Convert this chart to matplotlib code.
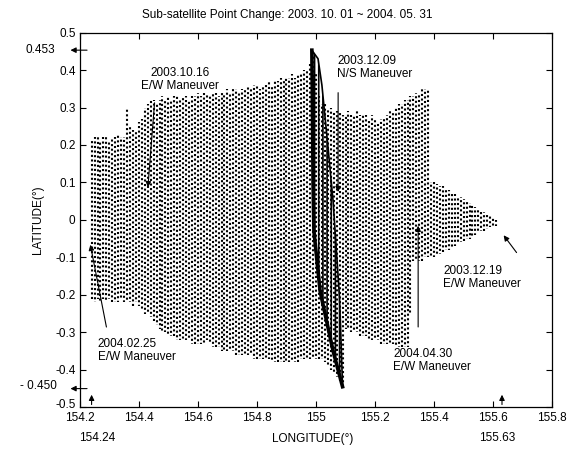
"""
Sub-satellite point track, Oct 2003 - May 2004.
Each day's excursion is drawn as a dotted vertical trace from its southern to
northern latitude limit, with the N/S maneuver band and maneuver annotations.
"""

import numpy as np
import matplotlib
matplotlib.use("Agg")
import matplotlib.pyplot as plt
from matplotlib.transforms import ScaledTranslation

plt.rcParams["font.family"] = ["Liberation Sans", "DejaVu Sans"]
plt.rcParams["hatch.linewidth"] = 1.2

# === DATA ===
# daily trace longitude (deg)
trace_lon = [
    154.24, 154.25, 154.26, 154.27, 154.28, 154.29, 154.30, 154.31, 154.32, 154.33,
    154.34, 154.35, 154.36, 154.37, 154.38, 154.39, 154.40, 154.41, 154.42, 154.43,
    154.44, 154.45, 154.46, 154.47, 154.48, 154.49, 154.50, 154.51, 154.52, 154.53,
    154.54, 154.55, 154.56, 154.57, 154.58, 154.59, 154.60, 154.61, 154.62, 154.63,
    154.64, 154.65, 154.66, 154.67, 154.68, 154.69, 154.70, 154.71, 154.72, 154.73,
    154.74, 154.75, 154.76, 154.77, 154.78, 154.79, 154.80, 154.81, 154.82, 154.83,
    154.84, 154.85, 154.86, 154.87, 154.88, 154.89, 154.90, 154.91, 154.92, 154.93,
    154.94, 154.95, 154.96, 154.97, 154.98, 154.99, 155.00, 155.01, 155.02, 155.03,
    155.04, 155.05, 155.06, 155.07, 155.08, 155.09, 155.10, 155.11, 155.12, 155.13,
    155.14, 155.15, 155.16, 155.17, 155.18, 155.19, 155.20, 155.21, 155.22, 155.23,
    155.24, 155.25, 155.26, 155.27, 155.28, 155.29, 155.30, 155.31, 155.32, 155.33,
    155.34, 155.35, 155.36, 155.37, 155.38, 155.39, 155.40, 155.41, 155.42, 155.43,
    155.44, 155.45, 155.46, 155.47, 155.48, 155.49, 155.50, 155.51, 155.52, 155.53,
    155.54, 155.55, 155.56, 155.57, 155.58, 155.59, 155.60, 155.61, 155.62,
]
# northern limit of each daily trace (deg)
trace_top = [
    0.21, 0.22, 0.22, 0.21, 0.22, 0.22, 0.21, 0.22, 0.22, 0.23,
    0.22, 0.22, 0.30, 0.25, 0.24, 0.24, 0.26, 0.27, 0.30, 0.31,
    0.32, 0.32, 0.31, 0.32, 0.33, 0.32, 0.33, 0.32, 0.33, 0.33,
    0.32, 0.33, 0.33, 0.32, 0.33, 0.33, 0.34, 0.33, 0.34, 0.34,
    0.33, 0.34, 0.34, 0.33, 0.34, 0.34, 0.35, 0.34, 0.35, 0.35,
    0.34, 0.35, 0.35, 0.36, 0.35, 0.36, 0.36, 0.35, 0.36, 0.36,
    0.37, 0.36, 0.37, 0.37, 0.38, 0.37, 0.38, 0.38, 0.39, 0.38,
    0.39, 0.39, 0.40, 0.40, 0.42, 0.45, 0.39, 0.33, 0.31, 0.31,
    0.30, 0.30, 0.29, 0.29, 0.29, 0.28, 0.28, 0.29, 0.28, 0.28,
    0.29, 0.28, 0.28, 0.28, 0.27, 0.28, 0.27, 0.26, 0.27, 0.27,
    0.28, 0.29, 0.29, 0.30, 0.31, 0.31, 0.32, 0.32, 0.33, 0.33,
    0.34, 0.34, 0.35, 0.35, 0.35, 0.10, 0.10, 0.095, 0.09, 0.09,
    0.085, 0.08, 0.075, 0.07, 0.065, 0.06, 0.055, 0.05, 0.045, 0.04,
    0.035, 0.03, 0.025, 0.02, 0.015, 0.01, 0.005, 0.0, -0.005,
]
# southern limit of each daily trace (deg)
trace_bot = [
    -0.21, -0.22, -0.21, -0.22, -0.21, -0.22, -0.21, -0.22, -0.22, -0.22,
    -0.21, -0.22, -0.22, -0.22, -0.23, -0.22, -0.23, -0.24, -0.25, -0.25,
    -0.26, -0.27, -0.28, -0.29, -0.30, -0.30, -0.31, -0.31, -0.31, -0.32,
    -0.32, -0.32, -0.32, -0.32, -0.33, -0.33, -0.33, -0.33, -0.33, -0.32,
    -0.33, -0.34, -0.34, -0.34, -0.35, -0.35, -0.35, -0.35, -0.35, -0.36,
    -0.36, -0.36, -0.36, -0.36, -0.36, -0.37, -0.37, -0.37, -0.37, -0.37,
    -0.37, -0.38, -0.38, -0.38, -0.38, -0.38, -0.38, -0.38, -0.38, -0.38,
    -0.38, -0.37, -0.37, -0.37, -0.37, -0.37, -0.37, -0.37, -0.37, -0.38,
    -0.39, -0.40, -0.41, -0.42, -0.43, -0.44, -0.29, -0.29, -0.30, -0.30,
    -0.30, -0.31, -0.31, -0.31, -0.32, -0.32, -0.32, -0.32, -0.33, -0.33,
    -0.33, -0.33, -0.33, -0.34, -0.34, -0.34, -0.34, -0.34, -0.25, -0.11,
    -0.11, -0.11, -0.11, -0.10, -0.10, -0.10, -0.10, -0.095, -0.09, -0.085,
    -0.08, -0.08, -0.075, -0.07, -0.065, -0.06, -0.055, -0.05, -0.05, -0.045,
    -0.04, -0.035, -0.03, -0.03, -0.025, -0.02, -0.02, -0.015, -0.01,
]

# N/S maneuver band (two edges of the dense dark stripe)
ns_left_lon = [154.986, 154.988, 154.990, 154.993, 155.014, 155.058, 155.090]
ns_left_lat = [0.453, 0.30, 0.10, -0.03, -0.19, -0.35, -0.445]
ns_right_lon = [154.986, 155.007, 155.020, 155.040, 155.058, 155.080, 155.090]
ns_right_lat = [0.453, 0.43, 0.36, 0.20, 0.05, -0.21, -0.445]

# extremes marked outside the axes
lat_max, lat_min = 0.453, -0.450
lon_min, lon_max = 154.24, 155.63

# maneuver labels: (text, text position, arrow tail, arrow head, alignment)
maneuvers = [
    ("2003.10.16\nE/W Maneuver", (154.539, 0.408), (154.454, 0.32), (154.43, 0.08), "center"),
    ("2003.12.09\nN/S Maneuver", (155.071, 0.44), (155.075, 0.347), (155.075, 0.067), "left"),
    ("2003.12.19\nE/W Maneuver", (155.43, -0.12), (155.685, -0.093), (155.63, -0.035), "left"),
    ("2004.04.30\nE/W Maneuver", (155.261, -0.341), (155.346, -0.293), (155.346, -0.008), "left"),
    ("2004.02.25\nE/W Maneuver", (154.261, -0.315), (154.292, -0.293), (154.234, -0.059), "left"),
]

TITLE = "Sub-satellite Point Change: 2003. 10. 01 ~ 2004. 05. 31"
FS = 8.5

# === Plot ===
fig = plt.figure(figsize=(5.74, 4.65), dpi=100)
ax = fig.add_axes([0.139, 0.124, 0.823, 0.806])

# dotted daily traces; stagger the dot phase so the dots don't line up in rows
phases = [0.0, 0.9, 0.4, 1.5, 0.2, 1.1, 0.7]
styles = [(phases[i % len(phases)], (1, 1.2)) for i in range(len(trace_lon))]
ax.vlines(trace_lon, trace_bot, trace_top, colors="k",
          linestyles=styles, lw=1.5, zorder=2)

# N/S maneuver: dense dark stripe (hatched over the overlapping traces)
ax.fill(np.r_[ns_left_lon, ns_right_lon[::-1]],
        np.r_[ns_left_lat, ns_right_lat[::-1]],
        facecolor="none", edgecolor="k", hatch="||||", lw=0, zorder=3)
ax.plot(ns_left_lon, ns_left_lat, color="k", lw=2.6, zorder=4)
ax.plot(ns_right_lon, ns_right_lat, color="k", lw=1.2, zorder=4)

ax.set_xlim(154.2, 155.8)
ax.set_ylim(-0.5, 0.5)
ax.set_xticks(np.round(np.arange(154.2, 155.81, 0.2), 1))
ax.set_xticklabels(["154.2", "154.4", "154.6", "154.8", "155", "155.2",
                    "155.4", "155.6", "155.8"])
ax.set_yticks(np.round(np.arange(-0.5, 0.51, 0.1), 1))
ax.set_yticklabels(["-0.5", "-0.4", "-0.3", "-0.2", "-0.1", "0",
                    "0.1", "0.2", "0.3", "0.4", "0.5"])
ax.tick_params(direction="in", length=4, width=0.8, top=True, right=True,
               labelsize=FS, pad=3)
for sp in ax.spines.values():
    sp.set_linewidth(0.9)

# lift the bottom y label a little so it clears "154.2" below it
lbl = ax.get_yticklabels()[0]
lbl.set_transform(lbl.get_transform() + ScaledTranslation(0, 3 / 72, fig.dpi_scale_trans))

ax.set_xlabel("LONGITUDE(°)", fontsize=FS)
ax.set_ylabel("LATITUDE(°)", fontsize=FS)
ax.xaxis.set_label_coords(0.494, -0.068)
ax.yaxis.set_label_coords(-0.076, 0.5)

# maneuver annotations
arrow_kw = dict(arrowstyle="-|>", color="k", lw=0.8, mutation_scale=8)
for text, txy, tail, head, ha in maneuvers:
    ax.text(txy[0], txy[1], text, fontsize=FS, ha=ha, va="top",
            multialignment=ha, linespacing=1.1, zorder=5)
    ax.annotate("", xy=head, xytext=tail, arrowprops=arrow_kw, zorder=5)

# extreme values outside the frame
ax.annotate("", xy=(154.159, lat_max), xytext=(154.234, lat_max),
            arrowprops=arrow_kw, annotation_clip=False)
ax.text(154.115, lat_max, f"{lat_max:.3f}", fontsize=FS, ha="right",
        va="center", clip_on=False)
ax.annotate("", xy=(154.159, lat_min), xytext=(154.234, lat_min),
            arrowprops=arrow_kw, annotation_clip=False)
ax.text(154.122, lat_min + 0.008, f"- {abs(lat_min):.3f}", fontsize=FS,
        ha="right", va="center", clip_on=False)
for lon in (lon_min, lon_max):
    ax.annotate("", xy=(lon, -0.459), xytext=(lon, -0.5),
                arrowprops=arrow_kw, annotation_clip=False)
ax.text(154.258, -0.581, f"{lon_min:.2f}", fontsize=FS, ha="center",
        va="center", clip_on=False)
ax.text(155.614, -0.581, f"{lon_max:.2f}", fontsize=FS, ha="center",
        va="center", clip_on=False)

fig.text(0.5, 0.968, TITLE, fontsize=FS, ha="center", va="center")

fig.savefig("out.png", dpi=100)
